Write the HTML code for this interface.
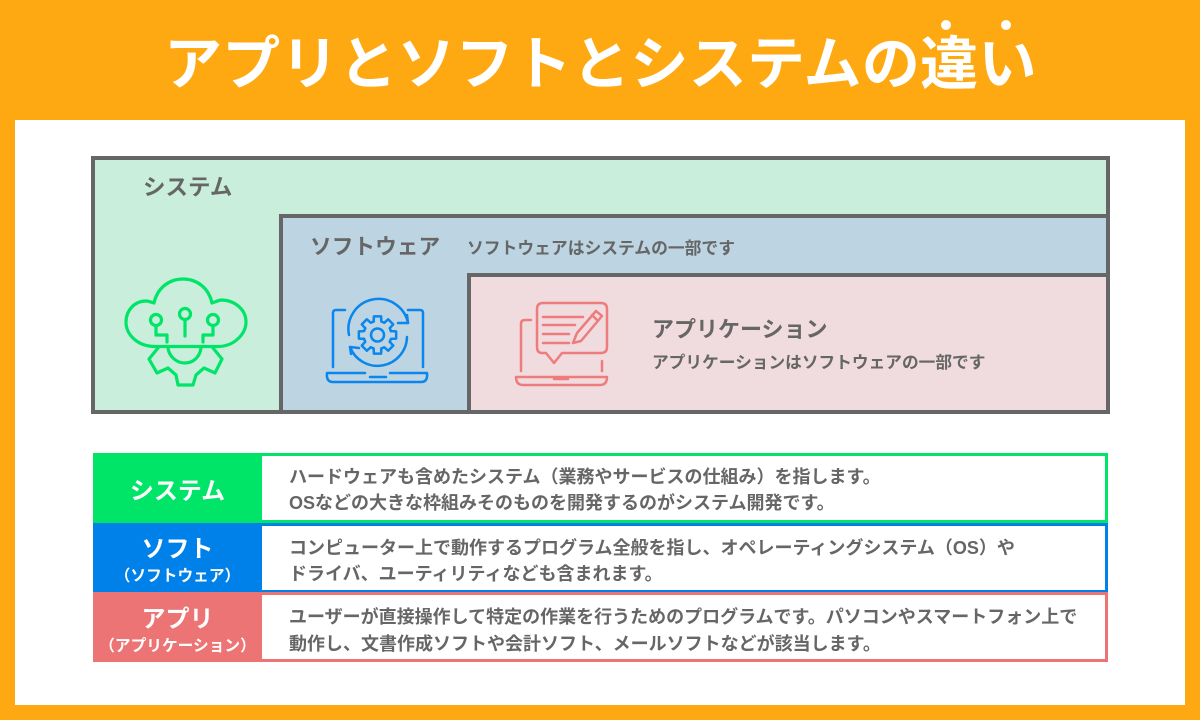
<!DOCTYPE html>
<html lang="ja"><head><meta charset="utf-8"><style>
html,body{margin:0;padding:0}
body{width:1200px;height:720px;position:relative;overflow:hidden;background:#FFA912;font-family:"Liberation Sans","Noto Sans CJK JP",sans-serif;font-weight:700;color:#666}
div{position:absolute;box-sizing:border-box;white-space:nowrap}
.t{line-height:1}
.row{left:93px;width:1015px;height:70px;border:3px solid;background:#fff}
.lab{left:-3px;width:169px;color:#fff;text-align:center;line-height:1}
.d{left:193px;font-size:18px;line-height:26.5px;color:#666;font-weight:700}
svg{position:absolute;left:0;top:0}
</style></head><body>
<div style="left:15px;top:120px;width:1170px;height:585px;background:#fff"></div>
<div class="t" style="left:164px;top:36px;font-size:58px;letter-spacing:.3px;color:#fff">アプリとソフトとシステムの違い</div>
<div style="left:941px;top:20px;width:10px;height:10px;border-radius:50%;background:#fff"></div>
<div style="left:1001px;top:20px;width:10px;height:10px;border-radius:50%;background:#fff"></div>

<div style="left:91px;top:156px;width:1019px;height:258px;border:4px solid #666;background:#C9EEDB"></div>
<div style="left:279px;top:214px;width:831px;height:200px;border:4px solid #666;background:#BDD4E3"></div>
<div style="left:467px;top:273px;width:643px;height:141px;border:4px solid #666;background:#F0DCDE"></div>
<div class="t" style="left:143px;top:177px;font-size:22.5px">システム</div>
<div class="t" style="left:310px;top:236px;font-size:21.7px">ソフトウェア</div>
<div class="t" style="left:467px;top:241px;font-size:16.8px">ソフトウェアはシステムの一部です</div>
<div class="t" style="left:652px;top:319px;font-size:22px">アプリケーション</div>
<div class="t" style="left:652px;top:355px;font-size:16.7px">アプリケーションはソフトウェアの一部です</div>

<svg width="1200" height="720" fill="none" stroke-linecap="round" stroke-linejoin="round">
<g stroke="#00E568" stroke-width="3.2">
<path d="M155 346.5H218C234 346.5 246 334 246 322C246 309 234 300 221 300C218 300.500 215 302 212 303C209 289 198 279 183 279C168 279 157 289 154 303C151 302 148 301 146 301C134 301 126 311 126 322C126 335 138 346.500 155 346.500Z"/>
<circle cx="185" cy="314" r="5.500"/><circle cx="156" cy="320" r="5.500"/><circle cx="213" cy="320" r="5.500"/>
<path d="M185 320V336M156 326V335H167V342M213 326V335H203V342"/>
<path d="M168 348C169 356 176 363 185 363C194 363 200 356 201 348"/>
<path d="M158 348L149 359L157 373L168 368L176 375L178 385H193L196 375L204 368L215 373L222 359L213 348"/>
</g>
<g stroke="#0A86EC" stroke-width="2.500">
<path d="M333 367V313Q333 310 336 310H345M408 310H420Q423 310 423 313V367"/>
<path d="M327 373H365M390 373H427Q428 382 421 382H333Q326 382 327 373M370 377H386"/>
<path d="M349 335A29.500 29.500 0 0 1 408 323M407 337A29.500 29.500 0 0 1 350 347"/>
<path d="M407 315L408 323L398 323M351 354L350 347L359 348"/>
<g transform="translate(377.500 335)">
<path d="M-3.860 -13.460L-3.600 -18.650L3.600 -18.650L3.860 -13.460L6.790 -12.240"/>
<path transform="rotate(45)" d="M-3.860 -13.460L-3.600 -18.650L3.600 -18.650L3.860 -13.460L6.790 -12.240"/>
<path transform="rotate(90)" d="M-3.860 -13.460L-3.600 -18.650L3.600 -18.650L3.860 -13.460L6.790 -12.240"/>
<path transform="rotate(135)" d="M-3.860 -13.460L-3.600 -18.650L3.600 -18.650L3.860 -13.460L6.790 -12.240"/>
<path transform="rotate(180)" d="M-3.860 -13.460L-3.600 -18.650L3.600 -18.650L3.860 -13.460L6.790 -12.240"/>
<path transform="rotate(225)" d="M-3.860 -13.460L-3.600 -18.650L3.600 -18.650L3.860 -13.460L6.790 -12.240"/>
<path transform="rotate(270)" d="M-3.860 -13.460L-3.600 -18.650L3.600 -18.650L3.860 -13.460L6.790 -12.240"/>
<path transform="rotate(315)" d="M-3.860 -13.460L-3.600 -18.650L3.600 -18.650L3.860 -13.460L6.790 -12.240"/>
<circle r="6.500"/>
</g>
</g>
<g stroke="#EE7C7C" stroke-width="2.500">
<path d="M543 303H601Q607 303 607 309V347Q607 353 601 353H562L554 363L546 353H542Q537 353 537 347V309Q537 303 543 303Z"/>
<path d="M543 317H583M543 325H575M543 334H569M543 343H569"/>
<path d="M573 343L577 333L596 311L602 316L581 341ZM592 315L597 320"/>
<path d="M531 320H525Q521 320 521 324V371M602 361V371"/>
<path d="M516 377H550M554 379H568M572 377H607Q607 385 600 385H523Q516 385 516 377Z"/>
</g>
</svg>

<div class="row" style="top:453px;border-color:#00E568">
<div style="left:-3px;top:-3px;width:169px;height:70px;background:#00E568"></div>
<div class="lab" style="top:23.500px;font-size:24px">システム</div>
<div class="d" style="top:7.500px">ハードウェアも含めたシステム（業務やサービスの仕組み）を指します。<br>OSなどの大きな枠組みそのものを開発するのがシステム開発です。</div>
</div>
<div class="row" style="top:523px;border-color:#0081E9">
<div style="left:-3px;top:-3px;width:169px;height:70px;background:#0081E9"></div>
<div class="lab" style="top:12px;font-size:24px">ソフト</div>
<div class="lab" style="top:43px;font-size:15.700px">（ソフトウェア）</div>
<div class="d" style="top:8.500px">コンピューター上で動作するプログラム全般を指し、オペレーティングシステム（OS）や<br>ドライバ、ユーティリティなども含まれます。</div>
</div>
<div class="row" style="top:592px;border-color:#EC7474">
<div style="left:-3px;top:-3px;width:169px;height:70px;background:#EC7474"></div>
<div class="lab" style="top:13px;font-size:24px">アプリ</div>
<div class="lab" style="top:44px;font-size:15.700px">（アプリケーション）</div>
<div class="d" style="top:9px">ユーザーが直接操作して特定の作業を行うためのプログラムです。パソコンやスマートフォン上で<br>動作し、文書作成ソフトや会計ソフト、メールソフトなどが該当します。</div>
</div>
</body></html>
